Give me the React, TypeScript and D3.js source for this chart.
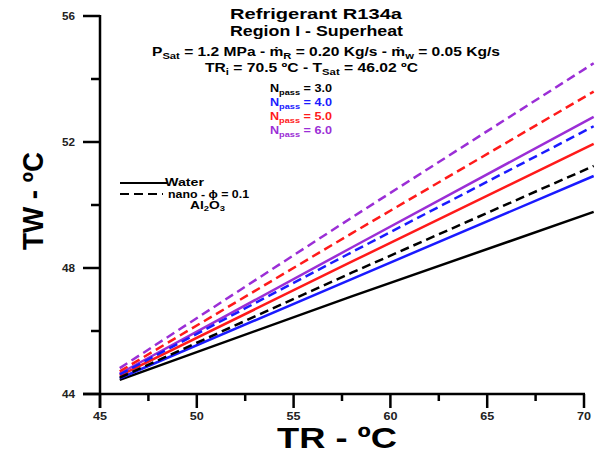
import React from "react";
import * as d3 from "d3";

const W = 598, H = 454;
const xTicks = [45, 50, 55, 60, 65, 70];
const xMinor = [47.5, 52.5, 57.5, 62.5, 67.5];
const yTicks = [44, 48, 52, 56];
const yMinor = [46, 50, 54];

const trValues = [46.02, 58, 70.5];
const waterN3 = [44.45, 47.1, 49.78];
const waterN4 = [44.5, 47.65, 50.92];
const waterN5 = [44.58, 48.2, 51.94];
const waterN6 = [44.65, 48.65, 52.8];
const nanoN3 = [44.52, 47.85, 51.24];
const nanoN4 = [44.62, 48.5, 52.5];
const nanoN5 = [44.72, 49.1, 53.6];
const nanoN6 = [44.82, 49.6, 54.5];

const BLACK = "#000000", BLUE = "#1a1aff", RED = "#ff1a1a", PURPLE = "#9b2ed6";

const series = [
  { v: waterN3, c: BLACK, dash: false },
  { v: waterN4, c: BLUE, dash: false },
  { v: waterN5, c: RED, dash: false },
  { v: waterN6, c: PURPLE, dash: false },
  { v: nanoN3, c: BLACK, dash: true },
  { v: nanoN4, c: BLUE, dash: true },
  { v: nanoN5, c: RED, dash: true },
  { v: nanoN6, c: PURPLE, dash: true },
];

const npassLabels = [
  { t: "3.0", c: BLACK },
  { t: "4.0", c: BLUE },
  { t: "5.0", c: RED },
  { t: "6.0", c: PURPLE },
];

export default function App() {
  const x = d3.scaleLinear().domain([45, 70]).range([100, 584]);
  const y = d3.scaleLinear().domain([44, 56]).range([394, 16]);
  const line = d3.line<number>().x((_, i) => x(trValues[i])).y((d) => y(d));
  const font = "Arial, 'Liberation Sans', sans-serif";
  const adj = "spacingAndGlyphs";
  return (
    <svg width={W} height={H} style={{ position: "absolute", left: 0, top: 0, background: "#fff" }} fontFamily={font}>
      {/* axes */}
      <line x1={100} x2={100} y1={15} y2={408} stroke="#000" strokeWidth={2.5} />
      <line x1={83} x2={585} y1={394} y2={394} stroke="#000" strokeWidth={2.5} />
      {yTicks.map((t) => (
        <g key={"y" + t}>
          <line x1={83} x2={100} y1={y(t)} y2={y(t)} stroke="#000" strokeWidth={2.5} />
          <text x={62} y={y(t) + 3.5} fontSize={10} fontWeight="bold" fill="#222" textLength={13} lengthAdjust={adj}>{t}</text>
        </g>
      ))}
      {yMinor.map((t) => (
        <line key={"ym" + t} x1={91} x2={100} y1={y(t)} y2={y(t)} stroke="#000" strokeWidth={2.5} />
      ))}
      {xTicks.map((t) => (
        <g key={"x" + t}>
          <line x1={x(t)} x2={x(t)} y1={394} y2={408} stroke="#000" strokeWidth={2.5} />
          <text x={x(t) - 7} y={420} fontSize={10} fontWeight="bold" fill="#222" textLength={14} lengthAdjust={adj}>{t}</text>
        </g>
      ))}
      {xMinor.map((t) => (
        <line key={"xm" + t} x1={x(t)} x2={x(t)} y1={394} y2={401} stroke="#000" strokeWidth={2.5} />
      ))}
      {/* data lines */}
      {series.map((s, i) => (
        <path key={i} d={line(s.v) || ""} fill="none" stroke={s.c} strokeWidth={2.5}
          strokeDasharray={s.dash ? "9,5" : undefined} />
      ))}
      {/* axis labels */}
      <text x={277} y={448} fontSize={30} fontWeight="bold" textLength={120} lengthAdjust={adj}>TR - ºC</text>
      <text transform="translate(43,250) rotate(-90)" fontSize={29} fontWeight="bold" textLength={98} lengthAdjust={adj}>TW - ºC</text>
      {/* titles */}
      <text x={230} y={19} fontSize={15.5} fontWeight="bold" textLength={172} lengthAdjust={adj}>Refrigerant R134a</text>
      <text x={230} y={36} fontSize={15.5} fontWeight="bold" textLength={173} lengthAdjust={adj}>Region I - Superheat</text>
      <text x={152} y={56} fontSize={12.5} fontWeight="bold" textLength={348} lengthAdjust={adj}>
        P<tspan fontSize={9} dy={3}>Sat</tspan><tspan dy={-3}> = 1.2 MPa  - ṁ</tspan><tspan fontSize={9} dy={3}>R</tspan><tspan dy={-3}> = 0.20 Kg/s - ṁ</tspan><tspan fontSize={9} dy={3}>w</tspan><tspan dy={-3}> = 0.05 Kg/s</tspan>
      </text>
      <text x={205} y={72} fontSize={12.5} fontWeight="bold" textLength={213} lengthAdjust={adj}>
        TR<tspan fontSize={9} dy={3}>i</tspan><tspan dy={-3}> = 70.5 ºC - T</tspan><tspan fontSize={9} dy={3}>Sat</tspan><tspan dy={-3}> = 46.02 ºC</tspan>
      </text>
      {npassLabels.map((n, i) => (
        <text key={n.t} x={270} y={92 + i * 13.9} fontSize={11} fontWeight="bold" fill={n.c} textLength={62} lengthAdjust={adj}>
          N<tspan fontSize={8} dy={3}>pass</tspan><tspan dy={-3}> = {n.t}</tspan>
        </text>
      ))}
      {/* legend */}
      <line x1={120} x2={167} y1={183} y2={183} stroke="#000" strokeWidth={2} />
      <text x={165} y={185.5} fontSize={11} fontWeight="bold" textLength={39} lengthAdjust={adj}>Water</text>
      <line x1={120} x2={163} y1={194} y2={194} stroke="#000" strokeWidth={2} strokeDasharray="9,5" />
      <text x={168} y={197.5} fontSize={11} fontWeight="bold" textLength={81} lengthAdjust={adj}>nano - ϕ = 0.1</text>
      <text x={190} y={209} fontSize={11} fontWeight="bold" textLength={35} lengthAdjust={adj}>
        Al<tspan fontSize={7.5} dy={2}>2</tspan><tspan dy={-2}>O</tspan><tspan fontSize={7.5} dy={2}>3</tspan>
      </text>
    </svg>
  );
}
